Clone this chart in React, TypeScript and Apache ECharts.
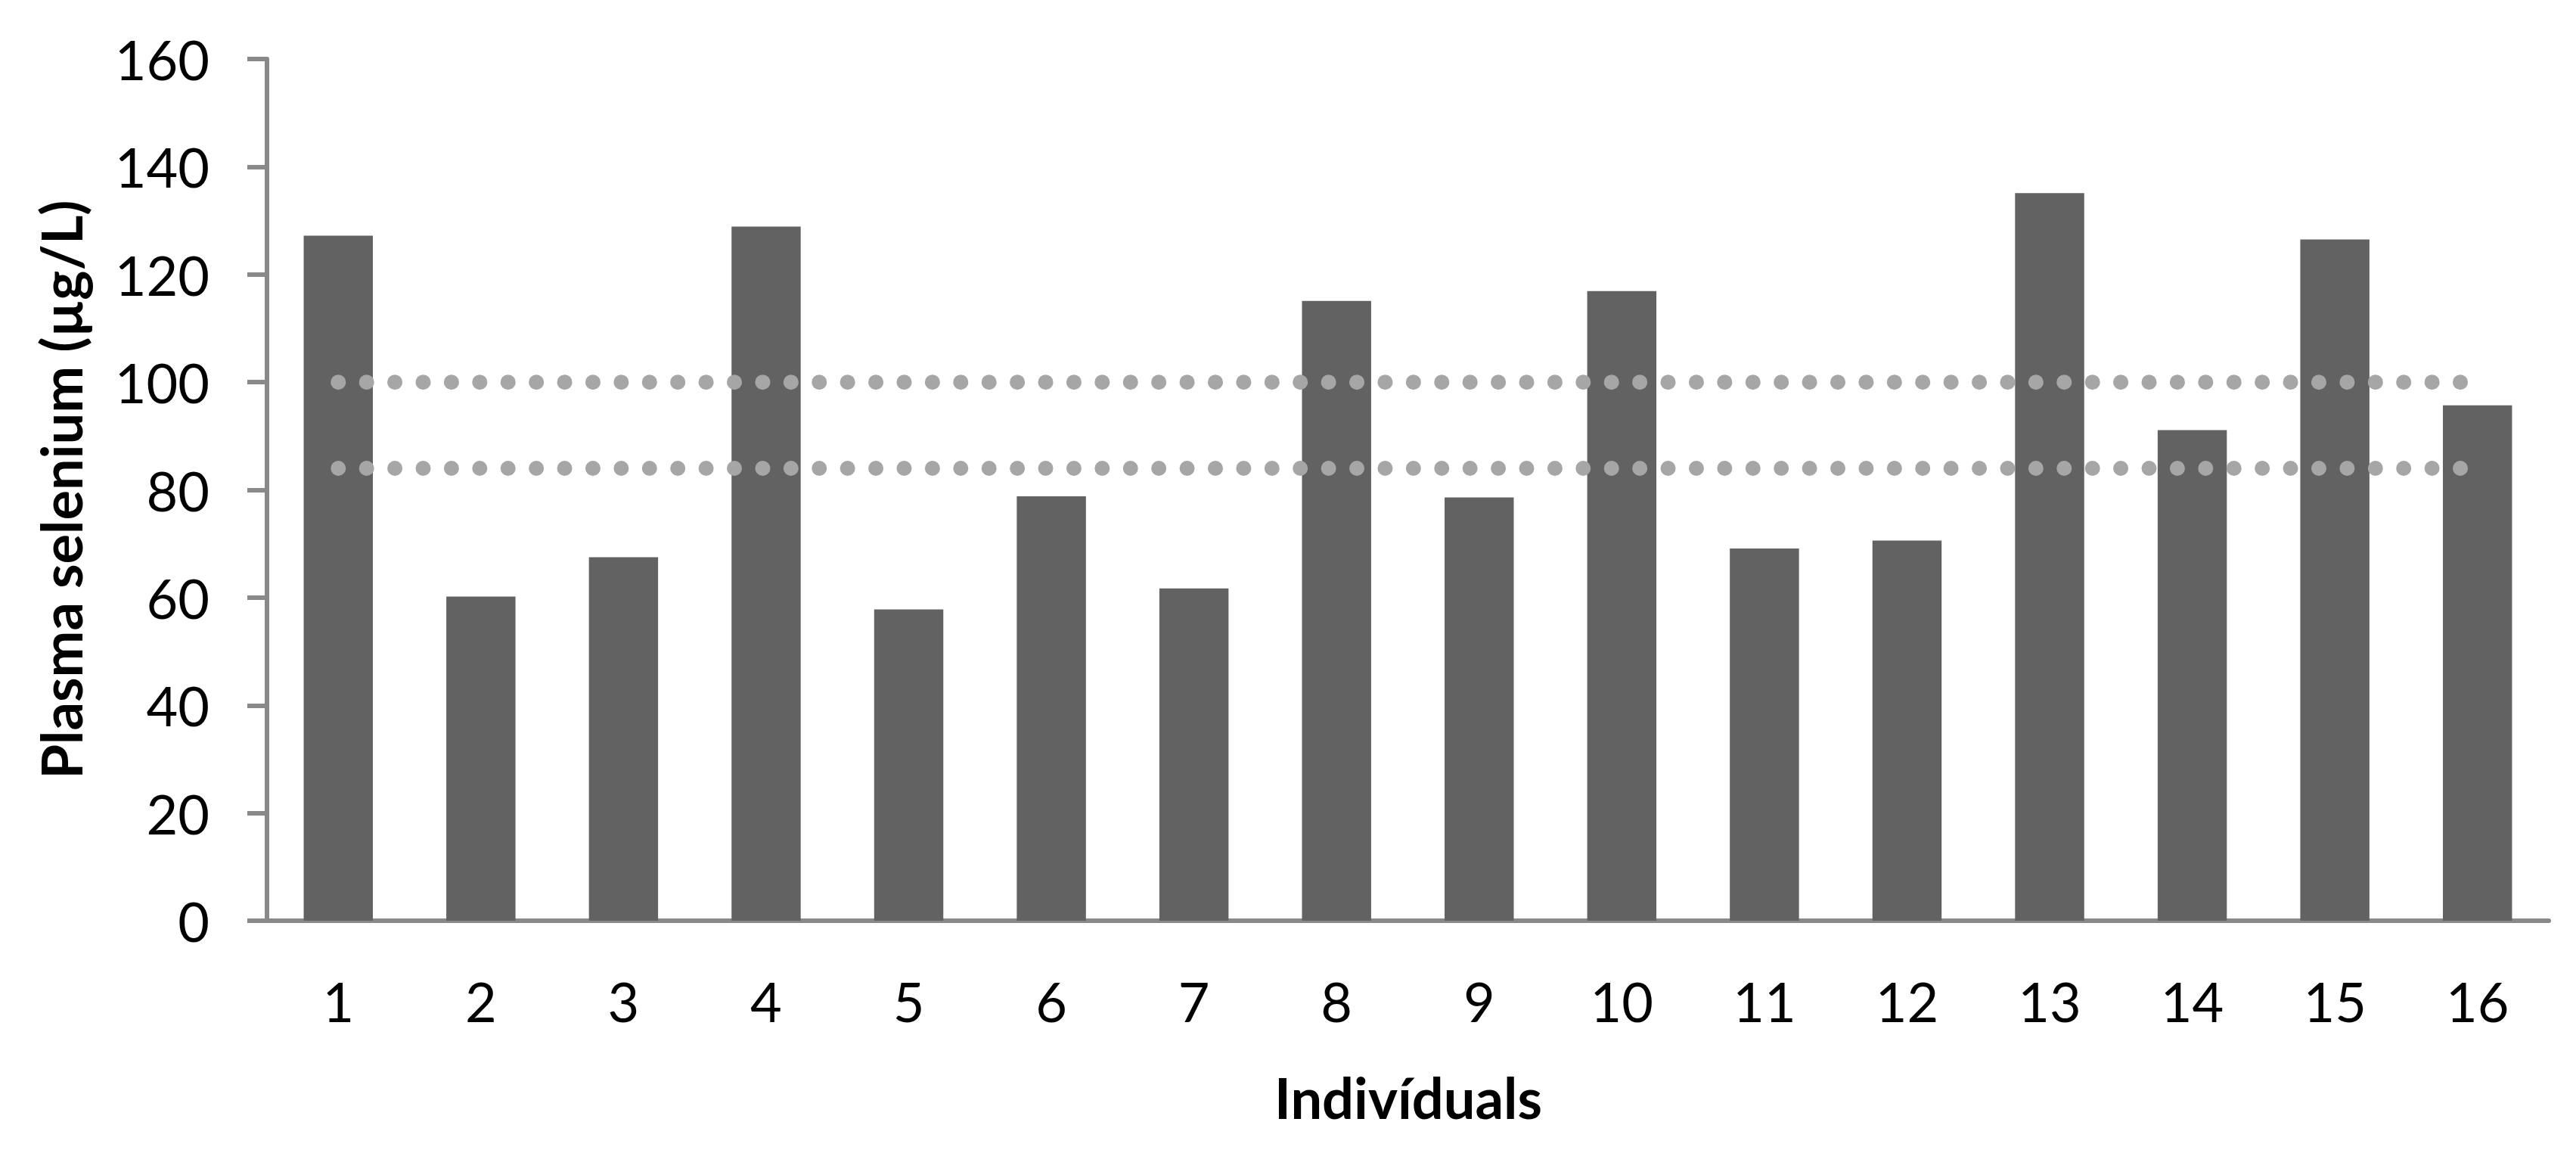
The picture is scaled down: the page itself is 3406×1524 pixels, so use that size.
import React, { useEffect, useRef } from "react";
import * as echarts from "echarts";

const categories = ["1", "2", "3", "4", "5", "6", "7", "8", "9", "10", "11", "12", "13", "14", "15", "16"];
const seleniumValues = [127.2, 60.2, 67.5, 128.9, 57.8, 78.8, 61.7, 115.1, 78.6, 116.9, 69.1, 70.6, 135.1, 91.1, 126.5, 95.7];
const upperReference = [100, 100, 100, 100, 100, 100, 100, 100, 100, 100, 100, 100, 100, 100, 100, 100];
const lowerReference = [84, 84, 84, 84, 84, 84, 84, 84, 84, 84, 84, 84, 84, 84, 84, 84];
const yTitle = "Plasma selenium (µg/L)";
const xTitle = "Indivíduals";

export default function App() {
  const ref = useRef<HTMLDivElement>(null);
  useEffect(() => {
    if (!ref.current) return;
    const chart = echarts.init(ref.current, null, { renderer: "svg" });
    const font = "Lato, 'Open Sans', sans-serif";
    const axisGray = "#898989";
    const dotStyle = {
      color: "#A6A6A6",
      width: 20,
      type: [0.01, 37.4],
      cap: "round",
    };
    chart.setOption({
      animation: false,
      backgroundColor: "#ffffff",
      grid: { left: 353, right: 36, top: 78, bottom: 307 },
      xAxis: {
        type: "category",
        data: categories,
        axisLine: { show: true, lineStyle: { color: axisGray, width: 6 } },
        axisTick: { show: false },
        axisLabel: { color: "#000", fontSize: 72, fontFamily: font, margin: 70 },
        splitLine: { show: false },
      },
      yAxis: {
        type: "value",
        min: 0,
        max: 160,
        interval: 20,
        axisLine: { show: true, lineStyle: { color: axisGray, width: 6 } },
        axisTick: { show: true, inside: false, length: 26, lineStyle: { color: axisGray, width: 6 } },
        axisLabel: { color: "#000", fontSize: 72, fontFamily: font, margin: 76 },
        splitLine: { show: false },
      },
      series: [
        {
          type: "bar",
          data: seleniumValues,
          barWidth: "48.5%",
          itemStyle: { color: "#626262" },
          z: 2,
        },
        {
          type: "line",
          data: upperReference,
          symbol: "none",
          lineStyle: dotStyle,
          z: 3,
        },
        {
          type: "line",
          data: lowerReference,
          symbol: "none",
          lineStyle: dotStyle,
          z: 3,
        },
      ],
      graphic: [
        {
          type: "text",
          x: 80,
          y: 647,
          rotation: Math.PI / 2,
          style: {
            text: yTitle,
            fill: "#000",
            font: `bold 74px ${font}`,
            align: "center",
            verticalAlign: "middle",
          },
        },
        {
          type: "text",
          x: 1862,
          y: 1450,
          style: {
            text: xTitle,
            fill: "#000",
            font: `bold 74px ${font}`,
            align: "center",
            verticalAlign: "middle",
          },
        },
      ],
    });
    return () => chart.dispose();
  }, []);
  return (
    <div
      ref={ref}
      style={{ position: "absolute", left: 0, top: 0, width: 3406, height: 1524 }}
    />
  );
}
